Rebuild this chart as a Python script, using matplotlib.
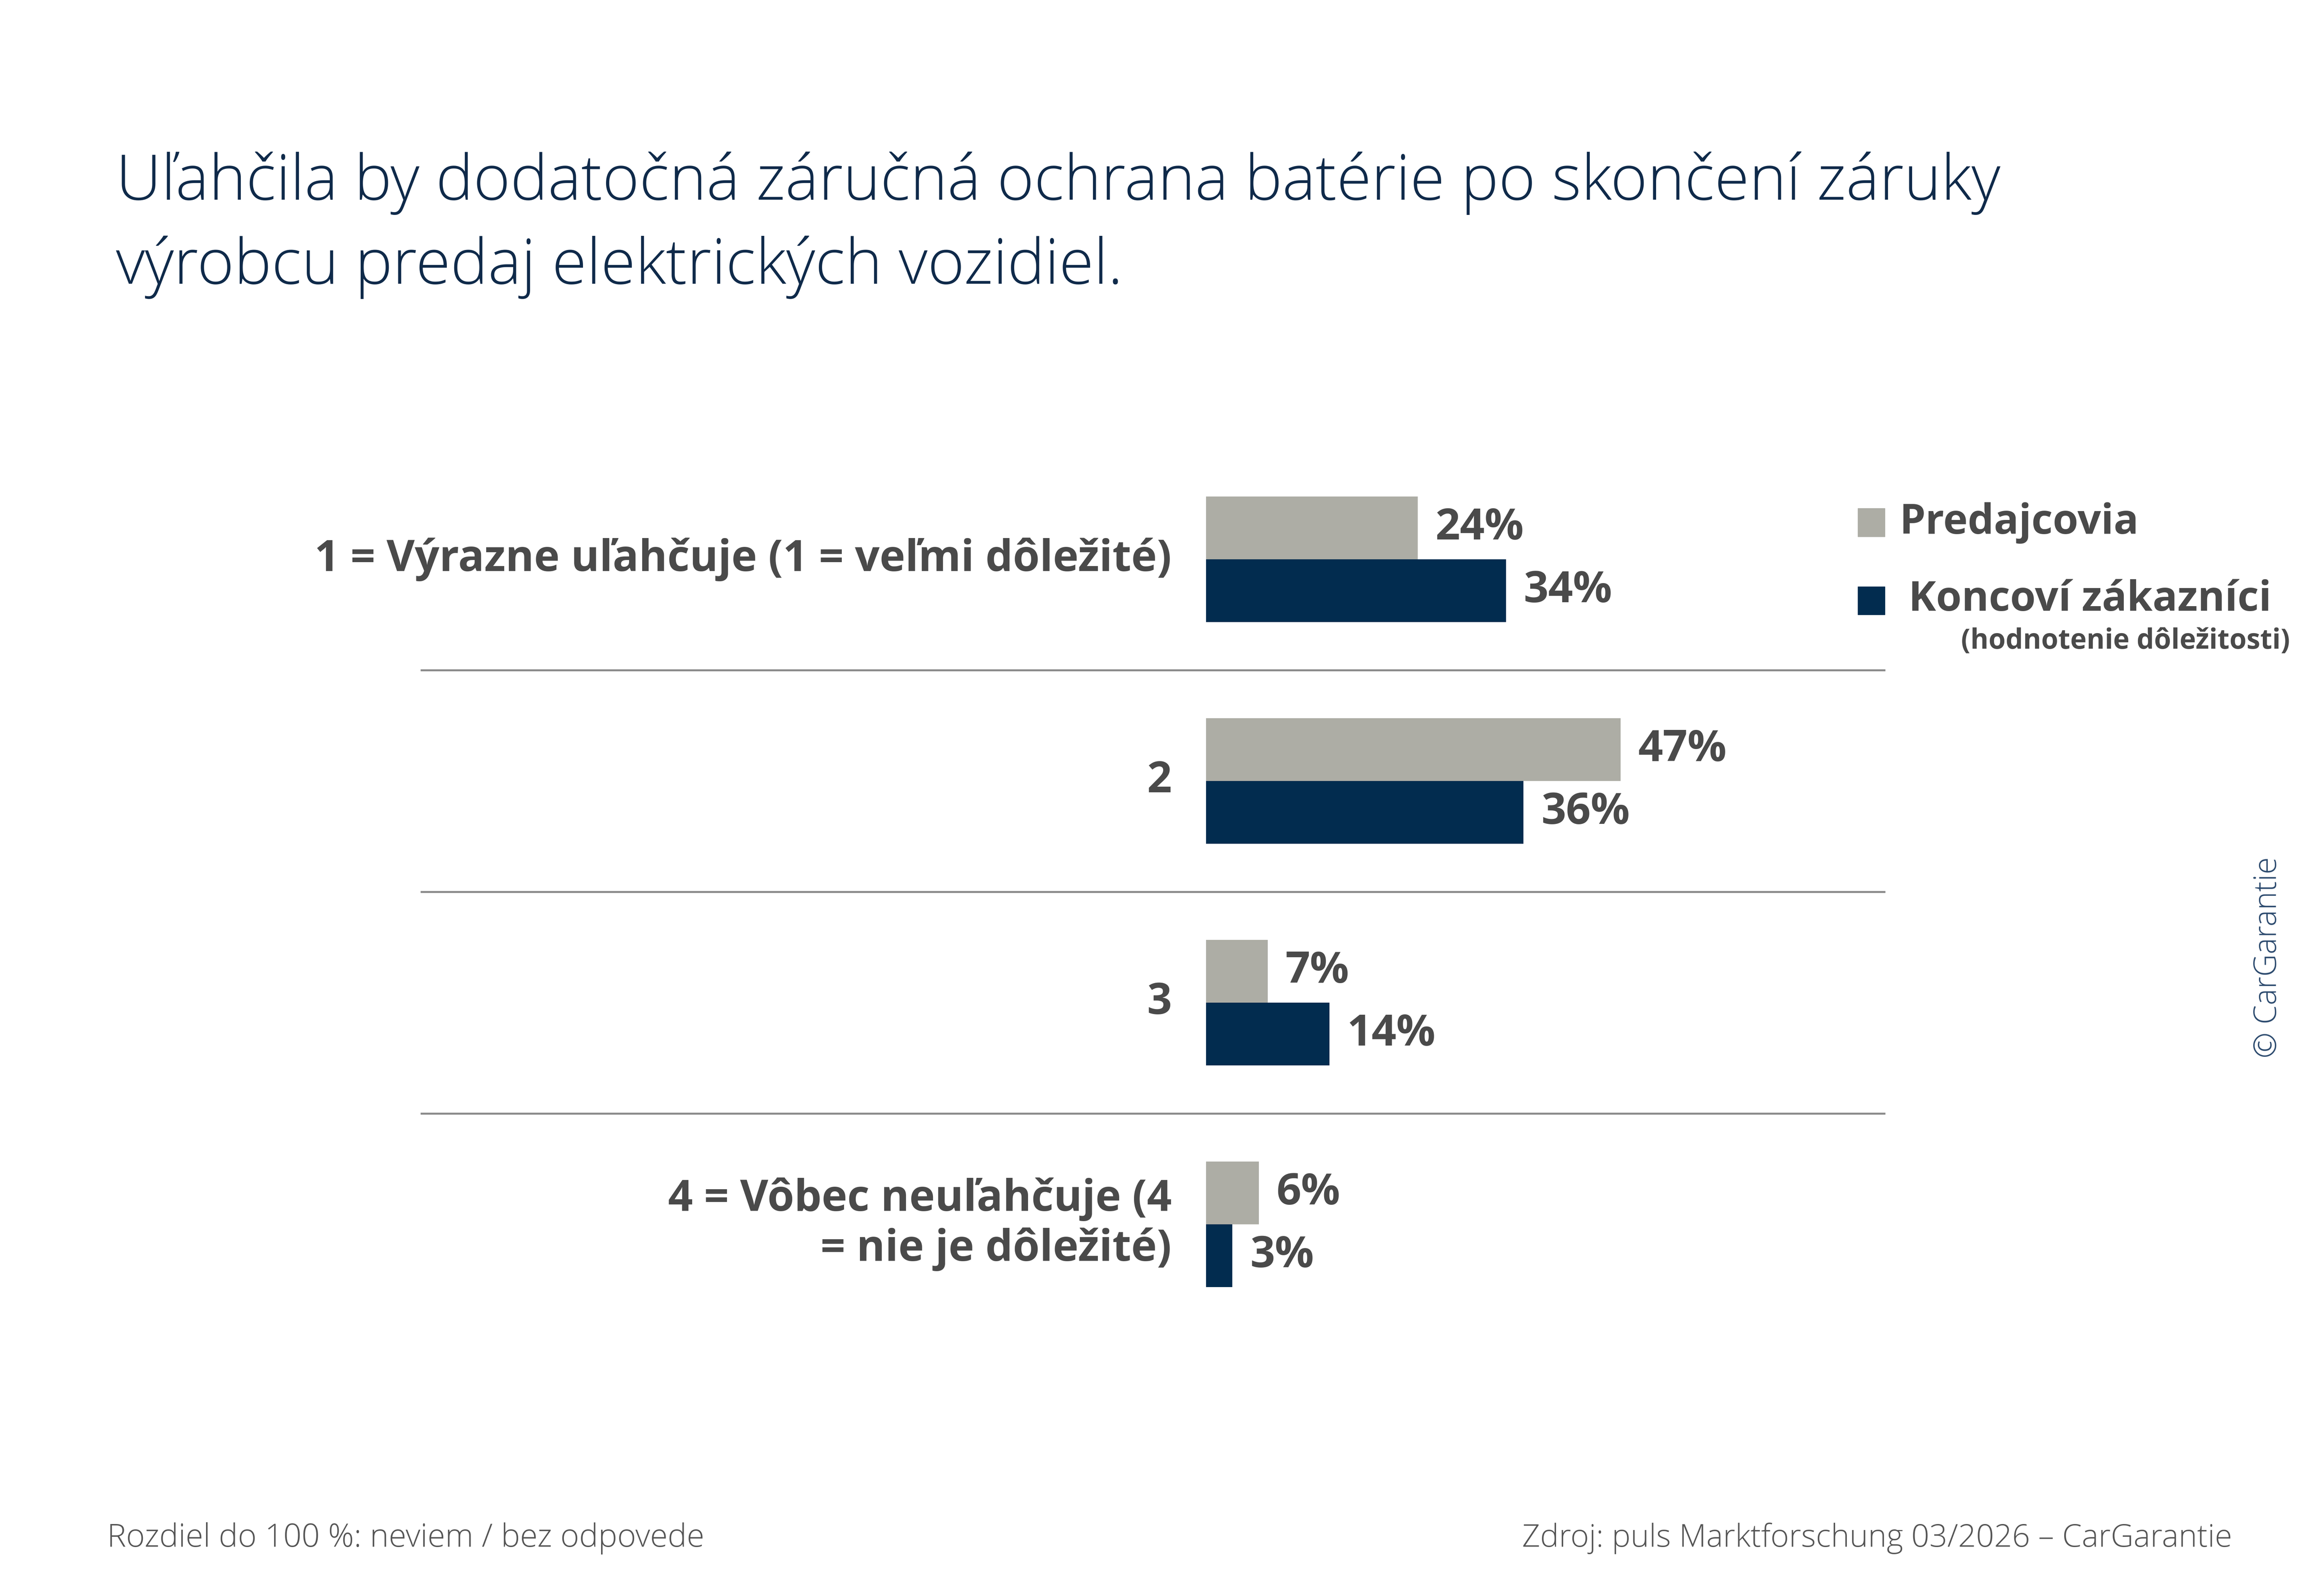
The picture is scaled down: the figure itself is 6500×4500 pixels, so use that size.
import matplotlib
matplotlib.use("Agg")
import matplotlib.pyplot as plt
from matplotlib.patches import Rectangle

plt.rcParams["font.family"] = ["Open Sans", "DejaVu Sans"]

# data
categories = ["1 = Výrazne uľahčuje (1 = veľmi dôležité)", "2", "3",
              "4 = Vôbec neuľahčuje (4\n= nie je dôležité)"]
dealers = [24, 47, 7, 6]
customers = [34, 36, 14, 3]
series_names = ["Predajcovia", "Koncoví zákazníci"]

GREY = "#adada5"
NAVY = "#022c4f"
TXT = "#4a4a4a"
TITLE = "#0f2a4a"

W, H = 1552, 1080   # Referenz-Koordinaten (px der Vorschau)
fig = plt.figure(figsize=(65, 45), dpi=100)

def fx(x): return x / W
def fy(y): return 1 - y / H

# Achse fuer Balken: x 0..100 %, Gruppenabstand 150 px
ax = fig.add_axes([fx(812), fy(903.5), 594 / W, 600 / H])
ax.set_xlim(0, 100)
ax.set_ylim(3.5, -0.5)
ax.axis("off")

bh = 0.283
pos = range(len(categories))
ax.barh([p - bh / 2 for p in pos], dealers, height=bh, color=GREY)
ax.barh([p + bh / 2 for p in pos], customers, height=bh, color=NAVY)

for p, v in zip(pos, dealers):
    ax.text(v + 2.0, p - bh / 2, f"{v}%", ha="left", va="center",
            fontsize=88, fontweight="bold", color=TXT)
for p, v in zip(pos, customers):
    ax.text(v + 2.0, p + bh / 2, f"{v}%", ha="left", va="center",
            fontsize=88, fontweight="bold", color=TXT)

for p, c in zip(pos, categories):
    ax.text(-3.9, p, c, ha="right", va="center", fontsize=88,
            fontweight="bold", color=TXT, linespacing=1.2)

# Trennlinien
for p in [0.5, 1.5, 2.5]:
    ax.plot([-88.9, 76.9], [p, p], color="#8a8a8a", lw=4, clip_on=False)

# Titel
fig.text(fx(78), fy(135), "Uľahčila by dodatočná záručná ochrana batérie po skončení záruky",
         ha="left", va="baseline", fontsize=128, fontweight="light", color=TITLE)
fig.text(fx(78), fy(192), "výrobcu predaj elektrických vozidiel.",
         ha="left", va="baseline", fontsize=128, fontweight="light", color=TITLE)

# Legende
fig.patches.append(Rectangle((fx(1251), fy(363)), 18 / W, 19 / H, transform=fig.transFigure,
                             color=GREY))
fig.patches.append(Rectangle((fx(1251), fy(416)), 18 / W, 19 / H, transform=fig.transFigure,
                             color=NAVY))
fig.text(fx(1279), fy(354), series_names[0], ha="left", va="center",
         fontsize=84, fontweight="bold", color=TXT)
fig.text(fx(1285), fy(406), series_names[1], ha="left", va="center",
         fontsize=84, fontweight="bold", color=TXT)
fig.text(fx(1542), fy(434), "(hodnotenie dôležitosti)", ha="right", va="center",
         fontsize=56, fontweight="bold", color=TXT)

# Copyright
fig.text(fx(1527), fy(648), "© CarGarantie", ha="center", va="center", rotation=90,
         fontsize=63, fontweight="light", color="#2c4a6e")

# Fusszeile
fig.text(fx(72), fy(1041), "Rozdiel do 100 %: neviem / bez odpovede", ha="left", va="center",
         fontsize=65, fontweight="light", color="#555555")
fig.text(fx(1503), fy(1041), "Zdroj: puls Marktforschung 03/2026 – CarGarantie", ha="right",
         va="center", fontsize=64, fontweight="light", color="#555555")

fig.savefig("out.png", dpi=100, facecolor="white")
